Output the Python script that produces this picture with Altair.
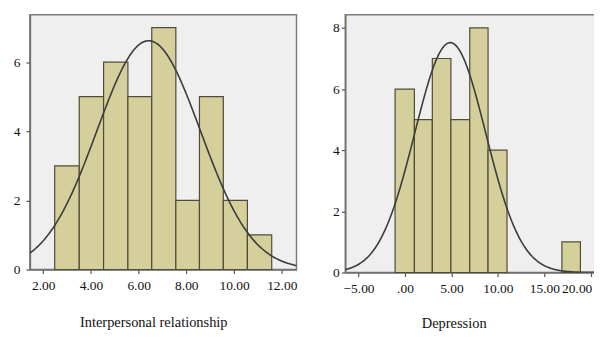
import altair as alt
import numpy as np
import pandas as pd

# ---- data ----
ip_edges = [2.48, 3.51, 4.53, 5.55, 6.55, 7.56, 8.55, 9.55, 10.56, 11.58]
ip_counts = [3, 5, 6, 5, 7, 2, 5, 2, 1]
ip_mean, ip_sd, ip_n, ip_bw = 6.42, 2.17, 36, 1.0

dep_starts = [-1.07, 1.01, 2.94, 4.94, 6.97, 8.94, 16.89]
dep_ends = [1.01, 2.94, 4.94, 6.97, 8.94, 10.98, 18.88]
dep_counts = [6, 5, 7, 5, 8, 4, 1]
dep_mean, dep_sd, dep_n, dep_bw = 4.87, 3.82, 36, 2.0

ip_xticks = [2, 4, 6, 8, 10, 12]
ip_yticks = [0, 2, 4, 6]
dep_xticks = [-5, 0, 5, 10, 15, 20]
dep_yticks = [0, 2, 4, 6, 8]

ip_xdom = [1.44, 12.62]
ip_ydom = [0, 7.37]
dep_xdom = [-6.43, 21.2]
dep_ydom = [0, 8.43]

FONT = "Liberation Serif"
BAR_FILL = "#d5d09b"
BAR_STROKE = "#4f4c38"
CURVE = "#3c3c3c"


def normal_curve(mean, sd, n, bw, lo, hi):
    xs = np.linspace(lo, hi, 300)
    ys = n * bw * np.exp(-0.5 * ((xs - mean) / sd) ** 2) / (sd * np.sqrt(2 * np.pi))
    return pd.DataFrame({"x": xs, "y": ys})


def panel(starts, ends, counts, curve_df, xdom, ydom, xticks, yticks,
          title, width, height, ylab_pad, yextent, title_x, title_y, xlabel_expr,
          last_tick):
    bars = pd.DataFrame({"x0": starts, "x1": ends, "count": counts})
    xscale = alt.Scale(domain=xdom, nice=False, zero=False)
    yscale = alt.Scale(domain=ydom, nice=False)
    test = f"datum.value == {last_tick}"
    xaxis = alt.Axis(values=xticks, labelExpr=xlabel_expr, grid=False,
                     title=title, titleX=title_x, titleY=title_y, titleAlign="center",
                     titleBaseline="alphabetic",
                     tickSize=4, labelPadding=5, labelFlush=False,
                     labelAlign=alt.condition(test, alt.value("right"), alt.value("center")),
                     labelOffset=alt.condition(test, alt.value(1), alt.value(0)))
    yaxis = alt.Axis(values=yticks, format="d", grid=False, title=None,
                     tickSize=4, labelPadding=ylab_pad,
                     minExtent=yextent, maxExtent=yextent)
    rect = alt.Chart(bars).mark_rect(
        fill=BAR_FILL, stroke=BAR_STROKE, strokeWidth=1.2
    ).encode(
        x=alt.X("x0:Q", scale=xscale, axis=xaxis),
        x2="x1:Q",
        y=alt.Y("count:Q", scale=yscale, axis=yaxis),
        y2=alt.datum(0),
    )
    line = alt.Chart(curve_df).mark_line(
        color=CURVE, strokeWidth=1.6, clip=True
    ).encode(
        x=alt.X("x:Q", scale=xscale),
        y=alt.Y("y:Q", scale=yscale),
    )
    return alt.layer(rect, line).properties(width=width, height=height)


left = panel(ip_edges[:-1], ip_edges[1:], ip_counts,
             normal_curve(ip_mean, ip_sd, ip_n, ip_bw, ip_xdom[0], ip_xdom[1]),
             ip_xdom, ip_ydom, ip_xticks, ip_yticks,
             "Interpersonal relationship", 268, 256, 6, 21, 124, 57,
             "format(datum.value, '.2f')", 99)

right = panel(dep_starts, dep_ends, dep_counts,
              normal_curve(dep_mean, dep_sd, dep_n, dep_bw, dep_xdom[0], dep_xdom[1]),
              dep_xdom, dep_ydom, dep_xticks, dep_yticks,
              "Depression", 258, 259, 2, 14, 109, 55,
              "datum.value == 0 ? '.00' : format(datum.value, '.2f')", 20)

chart = alt.hconcat(left, right, spacing=32).properties(
    padding={"left": 0, "top": 5, "right": -9, "bottom": 0},
    background="white",
).configure_view(
    fill="#efefef", stroke="#7d7d7d", strokeWidth=1.5
).configure_axis(
    domainColor="#6e6e6e", domainWidth=1.5, tickColor="#555555", tickWidth=1.2,
    labelFont=FONT, labelFontSize=13.5, labelColor="#111111",
    titleFont=FONT, titleFontSize=14.5, titleFontWeight="normal", titleColor="#111111",
)

chart.save("out.html", embed_options={"renderer": "svg", "actions": False})
